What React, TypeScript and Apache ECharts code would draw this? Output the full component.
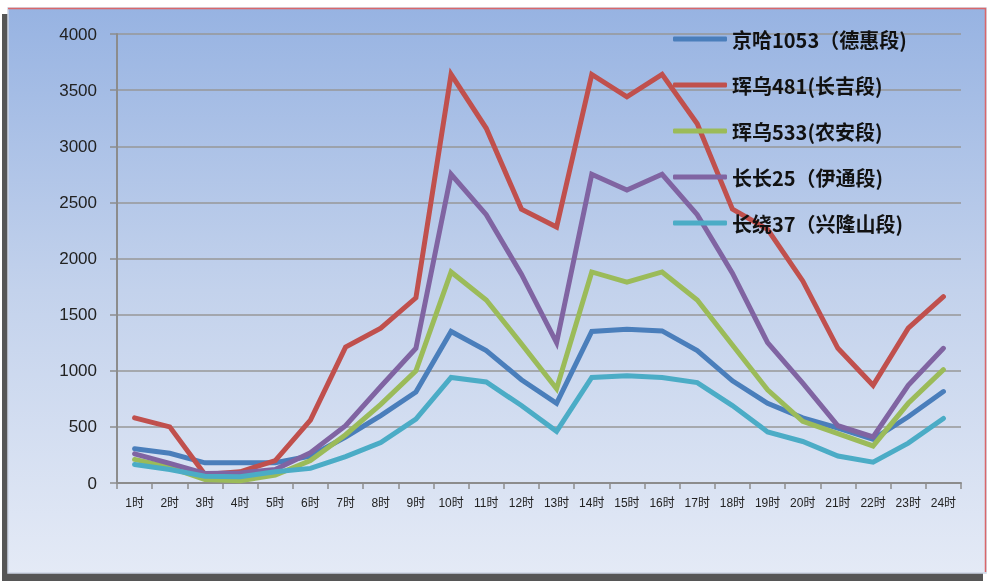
import React, { useEffect, useRef } from "react";
import * as echarts from "echarts";

const categories = [
  "1时", "2时", "3时", "4时", "5时", "6时", "7时", "8时", "9时", "10时", "11时", "12时",
  "13时", "14时", "15时", "16时", "17时", "18时", "19时", "20时", "21时", "22时", "23时", "24时",
];

const seriesNames = [
  "京哈1053（德惠段)",
  "珲乌481(长吉段)",
  "珲乌533(农安段)",
  "长长25（伊通段)",
  "长绕37（兴隆山段)",
];

const jingha1053 = [305, 265, 180, 180, 180, 240, 410, 600, 810, 1350, 1180, 920, 710, 1350, 1370, 1355, 1180, 910, 710, 580, 490, 390, 590, 815];
const hunwu481 = [580, 500, 75, 100, 200, 560, 1210, 1380, 1650, 3640, 3160, 2440, 2280, 3640, 3440, 3640, 3200, 2440, 2260, 1800, 1200, 870, 1380, 1660];
const hunwu533 = [210, 140, 30, 20, 70, 200, 430, 700, 1000, 1880, 1630, 1240, 840, 1880, 1790, 1880, 1630, 1230, 830, 550, 440, 330, 710, 1010];
const changchang25 = [260, 175, 85, 90, 120, 270, 510, 860, 1200, 2750, 2390, 1860, 1250, 2750, 2610, 2750, 2390, 1870, 1250, 890, 510, 410, 870, 1200];
const changrao37 = [165, 120, 60, 55, 100, 130, 235, 360, 570, 940, 900, 690, 460, 940, 955, 940, 895, 690, 455, 370, 240, 185, 355, 575];

const seriesValues = [jingha1053, hunwu481, hunwu533, changchang25, changrao37];
const seriesColors = ["#4a7ebb", "#c0504d", "#9bbb59", "#8064a2", "#4bacc6"];

const yTicks = { min: 0, max: 4000, interval: 500 };

export default function App() {
  const ref = useRef<HTMLDivElement>(null);

  useEffect(() => {
    if (!ref.current) return;
    const chart = echarts.init(ref.current, undefined, { renderer: "svg" });
    const font = "'Liberation Sans', 'Noto Sans CJK SC', sans-serif";
    chart.setOption({
      animation: false,
      graphic: {
        elements: [
          {
            type: "rect",
            z: -20,
            silent: true,
            shape: { x: 2, y: 14, width: 981, height: 567 },
            style: { fill: "#565656" },
          },
          {
            type: "rect",
            z: -19,
            silent: true,
            shape: { x: 8, y: 8, width: 978, height: 565 },
            style: {
              fill: new echarts.graphic.LinearGradient(0, 0, 0, 1, [
                { offset: 0, color: "#97b3e2" },
                { offset: 0.5, color: "#c3d2ec" },
                { offset: 1, color: "#e4eaf6" },
              ]),
              stroke: "#cdd5e5",
              lineWidth: 1.5,
            },
          },
          {
            type: "polyline",
            z: -18,
            silent: true,
            shape: { points: [[8, 8.5], [985.5, 8.5], [985.5, 572]] },
            style: { stroke: "#d9676a", lineWidth: 1.5, fill: null },
          },
        ],
      },
      legend: {
        orient: "vertical",
        left: 668,
        top: 23,
        itemGap: 24,
        itemWidth: 54,
        itemHeight: 5,
        icon: "roundRect",
        selectedMode: false,
        data: seriesNames,
        textStyle: {
          fontFamily: "'Noto Sans CJK SC', sans-serif",
          fontWeight: "bold",
          fontSize: 20,
          color: "#111",
          lineHeight: 22,
        },
      },
      grid: { left: 117, right: 39, top: 34, bottom: 102, containLabel: false },
      xAxis: {
        type: "category",
        data: categories,
        boundaryGap: true,
        axisLine: { show: true, lineStyle: { color: "#8c8c8c", width: 2 } },
        axisTick: { show: true, length: 6, lineStyle: { color: "#8c8c8c", width: 1.5 } },
        axisLabel: {
          interval: 0,
          margin: 14,
          fontSize: 12,
          color: "#222",
          fontFamily: font,
        },
      },
      yAxis: {
        type: "value",
        min: yTicks.min,
        max: yTicks.max,
        interval: yTicks.interval,
        axisLine: { show: true, lineStyle: { color: "#8c8c8c", width: 2 } },
        axisTick: { show: true, length: 7, lineStyle: { color: "#8c8c8c", width: 1.5 } },
        splitLine: { show: true, lineStyle: { color: "#979797", width: 1.5 } },
        axisLabel: {
          margin: 20,
          fontSize: 17,
          color: "#222",
          fontFamily: font,
          formatter: (v: number) => String(v),
        },
      },
      series: seriesNames.map((name, i) => ({
        name,
        type: "line",
        data: seriesValues[i],
        showSymbol: false,
        symbol: "none",
        color: seriesColors[i],
        lineStyle: { width: 5, color: seriesColors[i], cap: "round", join: "miter" },
        itemStyle: { color: seriesColors[i] },
      })),
    });
    return () => chart.dispose();
  }, []);

  return (
    <div
      ref={ref}
      style={{ position: "fixed", left: 0, top: 0, width: 1000, height: 585 }}
    />
  );
}
